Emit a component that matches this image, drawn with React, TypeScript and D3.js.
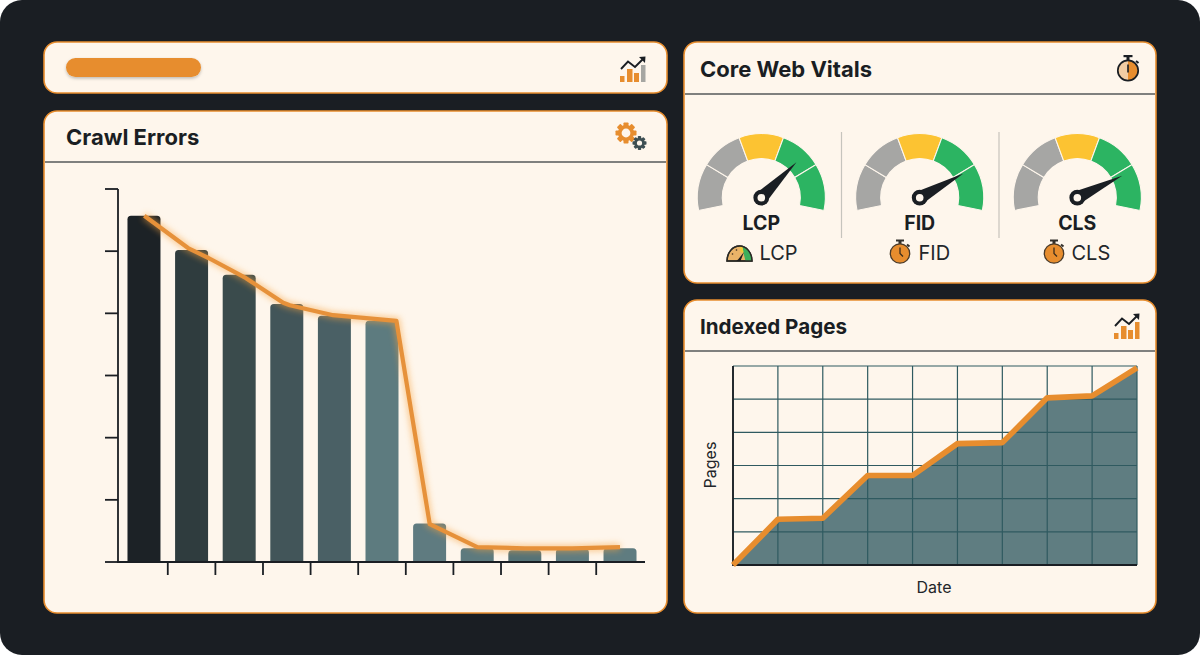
import React from "react";
import * as d3 from "d3";

// ---------- data ----------
const crawlCategories = ["1", "2", "3", "4", "5", "6", "7", "8", "9", "10", "11"];
const crawlErrors = [557, 502, 462, 415, 396, 388, 62, 22, 19, 21, 22];
const trendPositions = [0, 0.92, 1.35, 2.13, 2.92, 3.06, 3.97, 5.3, 6, 7, 8, 9, 10];
const trendValues = [557, 505, 489, 457, 417, 413, 397, 388, 61, 24, 22, 22, 24];
const crawlTicks = [0, 100, 200, 300, 400, 500, 600];

const vitals = ["LCP", "FID", "CLS"];
const vitalScores = [72, 80, 81.5];
const gaugeBands = [0, 21, 40, 60, 79, 100];

const pagesDates = [0, 1, 2, 3, 4, 5, 6, 7, 8, 9];
const pagesValues = [0, 23, 23.5, 45, 45, 61, 61.5, 84, 85, 99];

// ---------- style ----------
const DARK = "#1a1e23";
const CREAM = "#fef6ec";
const ORANGE = "#e78d2e";
const barColors = ["#1c2226", "#2f3c3e", "#3a4b4c", "#425559", "#4a6065", "#5d7b7f", "#5f7b80", "#5d7a7e", "#557276", "#5f7c80", "#5f7c80"];
const bandColors = ["#a6a6a4", "#a6a6a4", "#fcc332", "#2cb462", "#2cb462"];
const FONT = "Inter, 'Noto Sans', sans-serif";

// ---------- scales ----------
const crawlX = d3.scaleBand<string>().domain(crawlCategories).range([120.2, 643.8]).paddingInner(0.307).paddingOuter(0.153);
const crawlY = d3.scaleLinear().domain([0, 600]).range([562, 189]);
const trendX = d3.scaleLinear().domain([0, 10]).range([144.3, 620]);
const trendLine = d3.line<number>().x((_, i) => trendX(trendPositions[i])).y((v) => crawlY(v));

const pagesX = d3.scaleLinear().domain([0, 9]).range([733, 1137]);
const pagesY = d3.scaleLinear().domain([0, 100]).range([565, 366]);
const pagesLine = d3.line<number>().x((_, i) => pagesX(pagesDates[i])).y((v) => pagesY(v));
const pagesArea = d3.area<number>().x((_, i) => pagesX(pagesDates[i])).y0(565).y1((v) => pagesY(v));

const gaugeAngle = d3.scaleLinear().domain([0, 100]).range([(-101.5 * Math.PI) / 180, (101.5 * Math.PI) / 180]);
const gaugeArc = d3.arc<any>().innerRadius(39).outerRadius(64);

function topRoundedBar(x: number, y: number, w: number, y0: number, r: number) {
  return `M${x},${y0}V${y + r}Q${x},${y} ${x + r},${y}H${x + w - r}Q${x + w},${y} ${x + w},${y + r}V${y0}Z`;
}

function Card({ x, y, w, h }: { x: number; y: number; w: number; h: number }) {
  return <rect x={x} y={y} width={w} height={h} rx={13} fill={CREAM} stroke={ORANGE} strokeWidth={1.6} />;
}

function Gear({ cx, cy, r, hole, teeth, fill }: { cx: number; cy: number; r: number; hole: number; teeth: number; fill: string }) {
  const tw = r * 0.48;
  return (
    <g transform={`translate(${cx},${cy})`}>
      {d3.range(teeth).map((i) => (
        <rect key={i} x={-tw / 2} y={-r} width={tw} height={r} rx={0.8} fill={fill} transform={`rotate(${(i * 360) / teeth})`} />
      ))}
      <circle r={r * 0.76} fill={fill} />
      <circle r={hole} fill={CREAM} />
    </g>
  );
}

function TrendIcon({ x, y, accent, last }: { x: number; y: number; accent: string; last: string }) {
  return (
    <g transform={`translate(${x},${y})`}>
      <rect x={0} y={20} width={4.5} height={6} fill={accent} />
      <rect x={7} y={13} width={5.5} height={13} fill={accent} />
      <rect x={14} y={17} width={5} height={9} fill={accent} />
      <rect x={21} y={9} width={4.5} height={17} fill={last} />
      <path d="M1,13L8,5.5L15,11L23.5,2.5" fill="none" stroke={DARK} strokeWidth={1.9} />
      <path d="M19,1L25.5,0.5L25,7Z" fill={DARK} />
    </g>
  );
}

function SmallWatch({ cx, cy }: { cx: number; cy: number }) {
  return (
    <g transform={`translate(${cx},${cy})`}>
      <rect x={-1.5} y={-13} width={3} height={4} fill="#33302c" />
      <rect x={-4} y={-14} width={8} height={2} fill="#33302c" />
      <path d="M7,-9L9.5,-7" stroke="#33302c" strokeWidth={2} />
      <circle r={9.7} fill={ORANGE} stroke="#4a3a28" strokeWidth={1.3} />
      <path d="M0,-6V0L3,3" fill="none" stroke="#3a2c1c" strokeWidth={1.3} />
    </g>
  );
}

function BigWatch({ cx, cy }: { cx: number; cy: number }) {
  return (
    <g transform={`translate(${cx},${cy})`}>
      <rect x={-1.5} y={-14} width={3} height={4} fill={DARK} />
      <rect x={-4.5} y={-15.5} width={9} height={2.2} fill={DARK} />
      <path d="M8,-9.5L10.5,-7.5" stroke={DARK} strokeWidth={2} />
      <circle r={10.2} fill="#f2cda3" />
      <path d="M0,-10.2A10.2,10.2 0 0 1 0,10.2Z" fill={ORANGE} />
      <circle r={10.2} fill="none" stroke={DARK} strokeWidth={1.7} />
      <path d="M0,-6V2" stroke={DARK} strokeWidth={1.6} />
    </g>
  );
}

function DialIcon({ cx, cy }: { cx: number; cy: number }) {
  return (
    <g transform={`translate(${cx},${cy})`}>
      <path d="M-12.5,0A12.5,15 0 0 1 12.5,0Z" fill="#e9b368" stroke="#2b2a26" strokeWidth={1.4} />
      <path d="M3,-14.5A12.5,15 0 0 1 12.5,0H6L4,-8Z" fill="#3cae5b" />
      <path d="M0,-15A12.5,15 0 0 1 3,-14.5L4,-8L1,-9Z" fill="#f0c93a" />
      <path d="M-12.5,0A12.5,15 0 0 1 12.5,0Z" fill="none" stroke="#2b2a26" strokeWidth={1.4} />
      <path d="M-3,0L-1,-2L4.5,-9L1,0Z" fill="#1e1f1e" />
      <circle cx={-7} cy={-7} r={0.8} fill="#3a2c1c" />
      <circle cx={-3} cy={-11} r={0.8} fill="#3a2c1c" />
    </g>
  );
}

function Gauge({ cx, label, score }: { cx: number; label: string; score: number }) {
  const cy = 197.7;
  const a = gaugeAngle(score);
  const tip = 50;
  const deg = (a * 180) / Math.PI;
  return (
    <g>
      <g transform={`translate(${cx},${cy})`}>
        {bandColors.map((c, i) => (
          <path
            key={i}
            d={gaugeArc({ startAngle: gaugeAngle(gaugeBands[i]), endAngle: gaugeAngle(gaugeBands[i + 1]) }) as string}
            fill={c}
            stroke={CREAM}
            strokeWidth={1.1}
          />
        ))}
        <g transform={`rotate(${deg})`}>
          <path d={`M-7,2L0,${-tip}L7,2Z`} fill={DARK} />
        </g>
        <circle r={7.9} fill={DARK} />
        <circle r={3.8} fill={CREAM} />
      </g>
      <text x={cx} y={230} textAnchor="middle" fontFamily={FONT} fontWeight={700} fontSize={19.5} fill={DARK}>
        {label}
      </text>
    </g>
  );
}

export default function App() {
  const gaugeCx = [761.3, 919.7, 1077.3];
  const subX = [759.5, 918.5, 1071.5];
  return (
    <svg width={1200} height={655} viewBox="0 0 1200 655" style={{ position: "fixed", left: 0, top: 0, display: "block" }}>
      <defs>
        <filter id="glow" x="-10%" y="-10%" width="120%" height="120%">
          <feGaussianBlur stdDeviation="3.2" />
        </filter>
        <filter id="pillShadow" x="-10%" y="-40%" width="120%" height="200%">
          <feDropShadow dx="0" dy="1.5" stdDeviation="1.5" floodColor="#000" floodOpacity="0.25" />
        </filter>
      </defs>
      <rect width={1200} height={655} fill="#fff" />
      <rect width={1200} height={655} rx={22} fill={DARK} />

      <Card x={44} y={42} w={623} h={51} />
      <Card x={44} y={111} w={623} h={502} />
      <Card x={684} y={42} w={472} h={241} />
      <Card x={684} y={300} w={472} h={313} />

      {/* top-left card */}
      <rect x={66} y={58} width={135} height={19} rx={9.5} fill={ORANGE} filter="url(#pillShadow)" />
      <TrendIcon x={620} y={56} accent={ORANGE} last="#a6a6a2" />

      {/* Crawl Errors */}
      <text x={66} y={145} fontFamily={FONT} fontWeight={700} fontSize={22} fill={DARK}>Crawl Errors</text>
      <line x1={45} x2={666} y1={162} y2={162} stroke="#55585a" strokeWidth={1.4} />
      <Gear cx={626} cy={133} r={10.5} hole={4.4} teeth={8} fill={ORANGE} />
      <Gear cx={639.5} cy={143} r={7} hole={2.6} teeth={8} fill="#3d4f53" />

      {crawlCategories.map((c, i) => (
        <path
          key={c}
          d={topRoundedBar(crawlX(c) as number, crawlY(crawlErrors[i]), crawlX.bandwidth(), 562, 3.5)}
          fill={barColors[i]}
        />
      ))}
      <path d={trendLine(trendValues) as string} fill="none" stroke="#f7a340" strokeWidth={7} opacity={0.55} filter="url(#glow)" />
      <path d={trendLine(trendValues) as string} fill="none" stroke="#e6913a" strokeWidth={4.2} strokeLinejoin="round" />

      <g stroke={DARK} strokeWidth={1.8} fill="none">
        <line x1={118} x2={118} y1={crawlY(600)} y2={562} />
        <line x1={117} x2={645} y1={562} y2={562} />
        {crawlTicks.map((t) => (
          <line key={t} x1={105} x2={118} y1={crawlY(t)} y2={crawlY(t)} />
        ))}
        {crawlCategories.slice(0, -1).map((c) => {
          const x = (crawlX(c) as number) + crawlX.bandwidth() + (crawlX.step() - crawlX.bandwidth()) / 2;
          return <line key={c} x1={x} x2={x} y1={562} y2={575} />;
        })}
      </g>

      {/* Core Web Vitals */}
      <text x={700} y={77} fontFamily={FONT} fontWeight={700} fontSize={22} fill={DARK}>Core Web Vitals</text>
      <line x1={685} x2={1155} y1={94} y2={94} stroke="#55585a" strokeWidth={1.4} />
      <BigWatch cx={1128} cy={70.5} />
      <line x1={841.5} x2={841.5} y1={132} y2={238} stroke="#c6c4bd" strokeWidth={1.2} />
      <line x1={999} x2={999} y1={132} y2={238} stroke="#c6c4bd" strokeWidth={1.2} />
      {vitals.map((v, i) => (
        <Gauge key={v} cx={gaugeCx[i]} label={v} score={vitalScores[i]} />
      ))}
      <DialIcon cx={739.5} cy={261} />
      <SmallWatch cx={900} cy={253.5} />
      <SmallWatch cx={1054} cy={253.5} />
      {vitals.map((v, i) => (
        <text key={v} x={subX[i]} y={259.5} fontFamily={FONT} fontSize={20} fill="#23262a">{v}</text>
      ))}

      {/* Indexed Pages */}
      <text x={700} y={334} fontFamily={FONT} fontWeight={700} fontSize={20.6} fill={DARK}>Indexed Pages</text>
      <line x1={685} x2={1155} y1={351} y2={351} stroke="#55585a" strokeWidth={1.4} />
      <TrendIcon x={1114} y={313} accent={ORANGE} last={ORANGE} />

      <path d={pagesArea(pagesValues) as string} fill="#5f7d81" />
      <g stroke="#2f5a60" strokeWidth={1.2}>
        {pagesDates.map((d) => (
          <line key={d} x1={pagesX(d)} x2={pagesX(d)} y1={366} y2={565} />
        ))}
        {d3.range(0, 7).map((k) => {
          const y = 366 + (k * 199) / 6;
          return <line key={k} x1={733} x2={1137} y1={y} y2={y} />;
        })}
      </g>
      <line x1={733} x2={733} y1={366} y2={566} stroke={DARK} strokeWidth={1.8} />
      <line x1={733} x2={1137} y1={565} y2={565} stroke={DARK} strokeWidth={1.8} />
      <path d={pagesLine(pagesValues) as string} fill="none" stroke={ORANGE} strokeWidth={5.6} strokeLinejoin="round" />
      <text x={934} y={593} textAnchor="middle" fontFamily={FONT} fontSize={16} fill="#23262a">Date</text>
      <text transform="translate(715.5,465) rotate(-90)" textAnchor="middle" fontFamily={FONT} fontSize={16} fill="#23262a">Pages</text>
    </svg>
  );
}
